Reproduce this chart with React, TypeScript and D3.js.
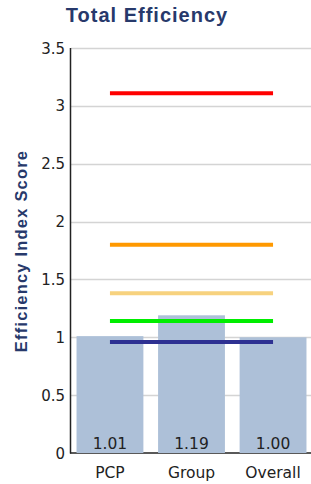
import React, { useEffect, useRef } from 'react';
import * as d3 from 'd3';

const categories = ['PCP', 'Group', 'Overall'];
const scores = [1.01, 1.19, 1.0];
const scoreLabels = ['1.01', '1.19', '1.00'];
const refValues = [3.11, 1.8, 1.38, 1.14, 0.96];
const refColors = ['#ff0000', '#ff9900', '#f7d27e', '#00ee00', '#2e3192'];
const yTicks = [0, 0.5, 1, 1.5, 2, 2.5, 3, 3.5];

const W = 311;
const H = 484;
const LABEL_FONT = 'DejaVu Sans, Verdana, sans-serif';
const TITLE_FONT = 'Liberation Sans, Arial, sans-serif';

const drawChart = (node: SVGSVGElement) => {
  const svg = d3.select(node);
  svg.selectAll('*').remove();

  const y = d3.scaleLinear().domain([0, 3.5]).range([453, 48]);
  const x = d3.scaleBand<string>()
    .domain(categories)
    .range([70, 313])
    .paddingInner(0.18)
    .paddingOuter(0.08);

  // grid
  svg.append('g')
    .selectAll('line')
    .data(yTicks.filter(d => d > 0))
    .enter()
    .append('line')
    .attr('x1', 71)
    .attr('x2', W)
    .attr('y1', d => Math.round(y(d)) + 0.5)
    .attr('y2', d => Math.round(y(d)) + 0.5)
    .attr('stroke', '#d4d4d4')
    .attr('stroke-width', 1.5);

  // x axis baseline
  svg.append('line')
    .attr('x1', 70).attr('x2', W)
    .attr('y1', y(0)).attr('y2', y(0))
    .attr('stroke', '#222').attr('stroke-width', 1.5);

  // bars
  svg.append('g')
    .selectAll('rect')
    .data(scores)
    .enter()
    .append('rect')
    .attr('x', (d, i) => x(categories[i]) as number)
    .attr('width', x.bandwidth())
    .attr('y', d => y(d))
    .attr('height', d => y(0) - y(d))
    .attr('fill', '#adc0d8');

  // bar value labels
  svg.append('g')
    .selectAll('text')
    .data(scoreLabels)
    .enter()
    .append('text')
    .attr('x', (d, i) => (x(categories[i]) as number) + x.bandwidth() / 2)
    .attr('y', 449)
    .attr('text-anchor', 'middle')
    .attr('font-family', LABEL_FONT)
    .attr('font-size', 15.5)
    .attr('fill', '#222')
    .text(d => d);

  // reference lines from centre of first bar to centre of last bar
  const x1 = (x(categories[0]) as number) + x.bandwidth() / 2;
  const x2 = (x(categories[categories.length - 1]) as number) + x.bandwidth() / 2;
  svg.append('g')
    .selectAll('line')
    .data(refValues)
    .enter()
    .append('line')
    .attr('x1', x1)
    .attr('x2', x2)
    .attr('y1', d => y(d))
    .attr('y2', d => y(d))
    .attr('stroke', (d, i) => refColors[i])
    .attr('stroke-width', 4);

  // y axis
  svg.append('line')
    .attr('x1', 70.5).attr('x2', 70.5)
    .attr('y1', y(3.5)).attr('y2', y(0) + 0.5)
    .attr('stroke', '#222').attr('stroke-width', 1.5);

  svg.append('g')
    .selectAll('text')
    .data(yTicks)
    .enter()
    .append('text')
    .attr('x', 65)
    .attr('y', d => y(d) + 5.5)
    .attr('text-anchor', 'end')
    .attr('font-family', LABEL_FONT)
    .attr('font-size', 15)
    .attr('fill', '#222')
    .text(d => String(d));

  // x labels
  svg.append('g')
    .selectAll('text')
    .data(categories)
    .enter()
    .append('text')
    .attr('x', d => (x(d) as number) + x.bandwidth() / 2)
    .attr('y', 478)
    .attr('text-anchor', 'middle')
    .attr('font-family', LABEL_FONT)
    .attr('font-size', 15.5)
    .attr('fill', '#222')
    .text(d => d);

  // titles
  svg.append('text')
    .attr('x', 147)
    .attr('y', 22)
    .attr('text-anchor', 'middle')
    .attr('font-family', TITLE_FONT)
    .attr('font-weight', 'bold')
    .attr('font-size', 20)
    .attr('letter-spacing', 1)
    .attr('fill', '#27396b')
    .text('Total Efficiency');

  svg.append('text')
    .attr('transform', 'translate(27,251) rotate(-90)')
    .attr('text-anchor', 'middle')
    .attr('font-family', TITLE_FONT)
    .attr('font-weight', 'bold')
    .attr('font-size', 16.5)
    .attr('letter-spacing', 1.2)
    .attr('fill', '#27396b')
    .text('Efficiency Index Score');
};

const App = () => {
  const ref = useRef<SVGSVGElement>(null);
  useEffect(() => {
    if (ref.current) drawChart(ref.current);
  }, []);
  return (
    <svg
      ref={ref}
      width={W}
      height={H}
      style={{ position: 'absolute', left: 0, top: 0, background: '#fff' }}
    />
  );
};

export default App;
